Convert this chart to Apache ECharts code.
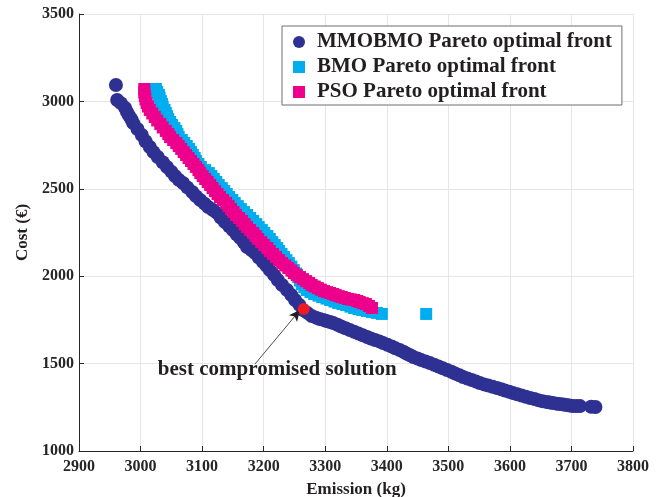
<!DOCTYPE html>
<html>
<head>
<meta charset="utf-8">
<script src="https://cdn.jsdelivr.net/npm/echarts@6/dist/echarts.min.js"></script>
<style>html,body{margin:0;padding:0;background:#fff;}#c{width:661px;height:497px;}</style>
</head>
<body>
<div id="c"></div>
<script>
const seriesNames = ['MMOBMO Pareto optimal front', 'BMO Pareto optimal front', 'PSO Pareto optimal front'];
const xTicks = {min: 2900, max: 3800, interval: 100};
const yTicks = {min: 1000, max: 3500, interval: 500};
const mmobmo = [[2960,3094],[2962,3008],[2968,2990],[2975,2962],[2978,2940],[2981,2920],[2985,2898],[2988,2876],[2995,2842],[3002,2808],[3008,2772],[3015,2739],[3021,2710],[3028,2682],[3036,2652],[3043,2625],[3050,2598],[3056,2573],[3062,2552],[3069,2533],[3076,2508],[3084,2482],[3090,2458],[3097,2436],[3104,2415],[3110,2396],[3117,2380],[3124,2362],[3130,2336],[3137,2310],[3144,2286],[3150,2264],[3156,2240],[3162,2218],[3168,2192],[3173,2167],[3180,2150],[3186,2133],[3192,2106],[3199,2081],[3205,2058],[3210,2035],[3217,2006],[3223,1978],[3230,1950],[3238,1921],[3245,1892],[3251,1864],[3258,1836],[3264,1807],[3271,1790],[3278,1772],[3285,1763],[3291,1755],[3297,1750],[3302,1744],[3308,1738],[3313,1732],[3320,1722],[3326,1712],[3333,1702],[3340,1692],[3347,1682],[3354,1672],[3361,1662],[3368,1652],[3374,1644],[3381,1635],[3388,1627],[3394,1618],[3401,1608],[3408,1598],[3414,1588],[3421,1578],[3427,1568],[3432,1558],[3438,1548],[3443,1538],[3450,1529],[3456,1520],[3463,1512],[3470,1503],[3477,1493],[3484,1483],[3491,1473],[3498,1463],[3505,1453],[3511,1443],[3518,1433],[3524,1423],[3531,1415],[3538,1406],[3545,1397],[3551,1389],[3558,1381],[3565,1374],[3572,1367],[3579,1360],[3586,1353],[3592,1346],[3599,1339],[3605,1332],[3612,1325],[3619,1317],[3626,1310],[3633,1303],[3640,1297],[3646,1291],[3653,1285],[3660,1280],[3665,1277],[3670,1274],[3676,1271],[3681,1269],[3687,1266],[3692,1263],[3697,1260],[3702,1257],[3708,1257],[3714,1257],[3732,1253],[3739,1252]];
const bmo = [[3025,3071],[3027,3054],[3030,3037],[3031,3020],[3033,3002],[3035,2985],[3036,2968],[3039,2951],[3041,2934],[3043,2916],[3045,2899],[3048,2882],[3051,2865],[3055,2848],[3058,2831],[3060,2813],[3062,2796],[3067,2779],[3071,2762],[3075,2745],[3079,2728],[3082,2710],[3085,2693],[3088,2676],[3090,2659],[3094,2642],[3098,2625],[3105,2607],[3111,2590],[3115,2573],[3119,2556],[3123,2539],[3127,2522],[3132,2504],[3136,2487],[3140,2470],[3144,2453],[3149,2436],[3153,2419],[3158,2401],[3163,2384],[3168,2367],[3173,2350],[3178,2333],[3183,2316],[3188,2298],[3192,2281],[3197,2264],[3201,2247],[3206,2230],[3210,2213],[3214,2195],[3218,2178],[3222,2161],[3225,2144],[3229,2127],[3233,2110],[3237,2092],[3241,2075],[3245,2055],[3249,2035],[3253,2015],[3256,1995],[3259,1975],[3262,1955],[3266,1938],[3270,1921],[3276,1909],[3282,1898],[3289,1889],[3295,1881],[3302,1872],[3308,1864],[3315,1855],[3321,1847],[3328,1841],[3334,1835],[3341,1826],[3347,1818],[3354,1812],[3360,1807],[3368,1801],[3376,1795],[3384,1790],[3392,1784],[3464,1784]];
const pso = [[3006,3071],[3006,3051],[3007,3031],[3008,3011],[3010,2991],[3012,2971],[3015,2951],[3019,2931],[3023,2911],[3027,2891],[3032,2871],[3036,2851],[3041,2831],[3045,2813],[3048,2796],[3053,2779],[3058,2762],[3062,2745],[3066,2728],[3070,2710],[3074,2693],[3078,2676],[3082,2659],[3086,2642],[3090,2625],[3094,2607],[3097,2590],[3101,2573],[3105,2556],[3109,2539],[3113,2522],[3117,2504],[3121,2487],[3125,2470],[3129,2453],[3134,2436],[3139,2419],[3143,2401],[3147,2384],[3151,2367],[3155,2350],[3160,2333],[3165,2316],[3169,2298],[3173,2281],[3178,2264],[3183,2247],[3187,2230],[3191,2213],[3196,2195],[3201,2178],[3206,2161],[3210,2144],[3215,2127],[3220,2110],[3225,2092],[3230,2075],[3235,2061],[3240,2047],[3245,2032],[3249,2018],[3254,2006],[3259,1995],[3264,1983],[3269,1972],[3274,1961],[3278,1950],[3283,1941],[3288,1932],[3293,1923],[3298,1915],[3303,1909],[3308,1904],[3313,1898],[3317,1892],[3322,1886],[3327,1881],[3332,1875],[3337,1870],[3342,1867],[3347,1864],[3352,1858],[3356,1852],[3361,1846],[3366,1841],[3371,1830],[3376,1818]];
const best = [[3265,1812]];
const annotationText = 'best compromised solution';
const arrowFrom = [3186,1498];
const arrowTo = [3259,1806];
const labelAt = [3222,1464];

const FONT = '"Liberation Serif","Times New Roman",serif';
const chart = echarts.init(document.getElementById('c'));
const sq = 'path://M0,0H10V10H0Z';
chart.setOption({
  animation: false,
  backgroundColor: '#fff',
  grid: {left: 79, right: 28, top: 14, bottom: 46, containLabel: false, outerBoundsMode: 'none'},
  legend: {
    orient: 'vertical', left: 282, top: 26,
    padding: [5, 10, 2, 11],
    itemWidth: 26, itemHeight: 12, itemGap: 3,
    borderColor: '#6e6e6e', borderWidth: 1, backgroundColor: '#fff',
    textStyle: {fontFamily: FONT, fontWeight: 'bold', fontSize: 21, color: '#231f20', lineHeight: 22},
    data: [
      {name: seriesNames[0], icon: 'circle'},
      {name: seriesNames[1], icon: sq},
      {name: seriesNames[2], icon: sq}
    ]
  },
  xAxis: {
    type: 'value', min: xTicks.min, max: xTicks.max, interval: xTicks.interval,
    name: 'Emission (kg)', nameLocation: 'middle', nameGap: 30,
    nameTextStyle: {fontFamily: FONT, fontWeight: 'bold', fontSize: 17, color: '#231f20'},
    axisLine: {lineStyle: {color: '#262626', width: 1}},
    axisTick: {inside: true, length: 5, lineStyle: {color: '#262626'}},
    axisLabel: {fontFamily: FONT, fontWeight: 'bold', fontSize: 16, color: '#262626', margin: 8,
      formatter: v => String(v)},
    splitLine: {show: true, lineStyle: {color: '#e6e6e6', width: 1}}
  },
  yAxis: {
    type: 'value', min: yTicks.min, max: yTicks.max, interval: yTicks.interval,
    name: 'Cost (€)', nameLocation: 'middle', nameGap: 45,
    nameTextStyle: {fontFamily: FONT, fontWeight: 'bold', fontSize: 17, color: '#231f20'},
    axisLine: {show: true, lineStyle: {color: '#262626', width: 1}},
    axisTick: {show: true, inside: true, length: 5, lineStyle: {color: '#262626'}},
    axisLabel: {fontFamily: FONT, fontWeight: 'bold', fontSize: 16, color: '#262626', margin: 5,
      formatter: v => String(v)},
    splitLine: {show: true, lineStyle: {color: '#e6e6e6', width: 1}}
  },
  series: [
    {name: seriesNames[0], type: 'scatter', data: mmobmo, symbol: 'circle', symbolSize: 14,
     itemStyle: {color: '#2e3192', opacity: 1}, z: 2},
    {name: seriesNames[1], type: 'scatter', data: bmo, symbol: 'rect', symbolSize: 12,
     itemStyle: {color: '#00aeef', opacity: 1}, z: 3},
    {name: seriesNames[2], type: 'scatter', data: pso, symbol: 'rect', symbolSize: 12,
     itemStyle: {color: '#ec008c', opacity: 1}, z: 4},
    {name: 'best', type: 'scatter', data: best, symbol: 'circle', symbolSize: 12,
     itemStyle: {color: '#ed1c24', opacity: 1}, z: 5,
     markLine: {
       silent: true, symbol: ['none', 'arrow'], symbolSize: [8, 11],
       lineStyle: {color: '#231f20', width: 0.8, type: 'solid'},
       label: {show: false},
       data: [[{coord: arrowFrom}, {coord: arrowTo}]]
     },
     markPoint: {
       silent: true, symbol: 'circle', symbolSize: 1, itemStyle: {color: 'rgba(0,0,0,0)'},
       label: {show: true, position: 'inside', formatter: annotationText,
         fontFamily: FONT, fontWeight: 'bold', fontSize: 21, color: '#231f20'},
       data: [{coord: labelAt}]
     }}
  ]
});
</script>
</body>
</html>
